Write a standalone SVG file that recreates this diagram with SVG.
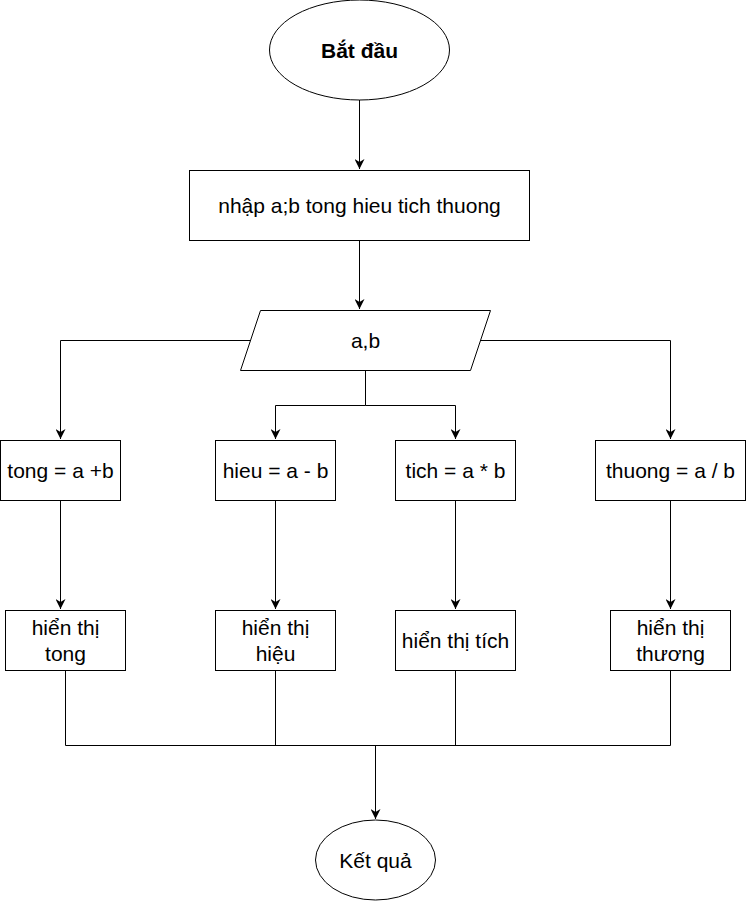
<svg xmlns="http://www.w3.org/2000/svg" width="746" height="901" viewBox="0 0 746 901">
<defs>
<style>
.s{fill:#fff;stroke:#000;stroke-width:1}
.t{font-family:"Liberation Sans",Arial,sans-serif;font-size:21px;fill:#000;text-anchor:middle}
.b{font-weight:bold}
.c{fill:none;stroke:#000;stroke-width:1}
</style>
<marker id="a" viewBox="0 0 10 10" refX="10" refY="5" markerWidth="10" markerHeight="10" markerUnits="userSpaceOnUse" orient="auto">
<path d="M0,0 L10,5 L0,10 L3,5 Z" fill="#000"/>
</marker>
</defs>
<rect width="746" height="901" fill="#fff"/>
<g id="connectors">
<path class="c" d="M359.5,100 V169" marker-end="url(#a)"/>
<path class="c" d="M359.5,240 V309" marker-end="url(#a)"/>
<path class="c" d="M250.5,340.5 H60.5 V439" marker-end="url(#a)"/>
<path class="c" d="M480.5,340.5 H670.5 V439" marker-end="url(#a)"/>
<path class="c" d="M365.5,370 V405.5 H275.5 V439" marker-end="url(#a)"/>
<path class="c" d="M365.5,405.5 H455.5 V439" marker-end="url(#a)"/>
<path class="c" d="M60.5,500 V609" marker-end="url(#a)"/>
<path class="c" d="M275.5,500 V609" marker-end="url(#a)"/>
<path class="c" d="M455.5,500 V609" marker-end="url(#a)"/>
<path class="c" d="M670.5,500 V609" marker-end="url(#a)"/>
<path class="c" d="M65.5,670 V745.5 H670.5 V670"/>
<path class="c" d="M275.5,670 V745.5"/>
<path class="c" d="M455.5,670 V745.5"/>
<path class="c" d="M375.5,745.5 V819" marker-end="url(#a)"/>
</g>
<g id="start">
<ellipse class="s" cx="359.5" cy="50" rx="90" ry="50"/>
<text class="t b" x="359.5" y="57.5">Bắt đầu</text>
</g>
<g id="input">
<rect class="s" x="189.5" y="170.5" width="340" height="70"/>
<text class="t" x="359.5" y="213">nhập a;b tong hieu tich thuong</text>
</g>
<g id="ab">
<polygon class="s" points="260.5,310.5 490.5,310.5 470.5,370.5 240.5,370.5"/>
<text class="t" x="365.5" y="348">a,b</text>
</g>
<g id="tong">
<rect class="s" x="0.5" y="440.5" width="120" height="60"/>
<text class="t" x="60.5" y="478">tong = a +b</text>
</g>
<g id="hieu">
<rect class="s" x="215.5" y="440.5" width="120" height="60"/>
<text class="t" x="275.5" y="478">hieu = a - b</text>
</g>
<g id="tich">
<rect class="s" x="395.5" y="440.5" width="120" height="60"/>
<text class="t" x="455.5" y="478">tich = a * b</text>
</g>
<g id="thuong">
<rect class="s" x="595.5" y="440.5" width="150" height="60"/>
<text class="t" x="670.5" y="478">thuong = a / b</text>
</g>
<g id="show-tong">
<rect class="s" x="5.5" y="610.5" width="120" height="60"/>
<text class="t" x="65.5" y="635">hiển thị</text>
<text class="t" x="65.5" y="661">tong</text>
</g>
<g id="show-hieu">
<rect class="s" x="215.5" y="610.5" width="120" height="60"/>
<text class="t" x="275.5" y="635">hiển thị</text>
<text class="t" x="275.5" y="661">hiệu</text>
</g>
<g id="show-tich">
<rect class="s" x="395.5" y="610.5" width="120" height="60"/>
<text class="t" x="455.5" y="648">hiển thị tích</text>
</g>
<g id="show-thuong">
<rect class="s" x="610.5" y="610.5" width="120" height="60"/>
<text class="t" x="670.5" y="635">hiển thị</text>
<text class="t" x="670.5" y="661">thương</text>
</g>
<g id="end">
<ellipse class="s" cx="375.5" cy="860" rx="60" ry="40"/>
<text class="t" x="375.5" y="867.5">Kết quả</text>
</g>
</svg>
